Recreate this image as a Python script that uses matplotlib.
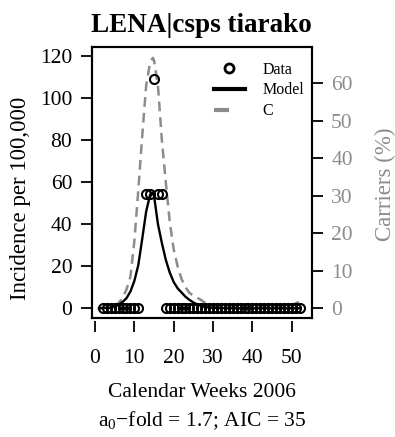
import numpy as np
import matplotlib
matplotlib.use("Agg")
import matplotlib.pyplot as plt
from matplotlib.lines import Line2D

plt.rcParams['font.family'] = ['Liberation Serif', 'DejaVu Serif']
plt.rcParams['mathtext.fontset'] = 'custom'
plt.rcParams['mathtext.rm'] = 'Liberation Serif'

# observed incidence (per 100,000), by calendar week
data_weeks = list(range(2, 12)) + [13, 14, 15, 16, 17] + list(range(18, 53))
data_vals = [0.0] * 10 + [54.5, 54.5, 109.0, 54.5, 54.5] + [0.0] * 35

# fitted model incidence
model_weeks = [1, 4, 6, 7, 8, 9, 10, 11, 12, 13, 14, 14.5, 15, 16, 17, 18, 19, 20,
               21, 22, 23, 24, 25, 26, 27, 28, 30, 35, 52]
model_vals = [0.0, 0.3, 1.6, 3.0, 4.8, 8.0, 13.0, 20.5, 33.0, 46.0, 54.0, 55.0, 53.5,
              40.0, 31.0, 23.0, 17.0, 12.5, 9.5, 7.5, 5.5, 4.0, 2.8, 1.8, 1.1, 0.6,
              0.2, 0.0, 0.0]

# carriers (%)
carr_weeks = [1, 3, 5, 6, 7, 8, 9, 10, 11, 12, 13, 14, 14.7, 15, 16, 17, 18, 19, 20,
              21, 22, 23, 24, 25, 26, 27, 28, 30, 35, 40, 45, 50, 52]
carr_vals = [0.05, 0.1, 0.6, 1.4, 2.8, 5.0, 8.4, 17.9, 31.4, 45.9, 59.4, 65.5, 66.8,
             66.1, 59.4, 44.8, 33.6, 23.0, 15.7, 11.2, 7.8, 5.6, 4.1, 3.4, 2.8, 2.2,
             1.4, 0.7, 0.6, 0.6, 0.6, 0.8, 1.8]

x_ticks = [0, 10, 20, 30, 40, 50]
y_ticks = [0, 20, 40, 60, 80, 100, 120]
c_ticks = [0, 10, 20, 30, 40, 50, 60]

grey = '#8c8c8c'
W, H = 395, 437

fig = plt.figure(figsize=(W / 100, H / 100), dpi=100)
ax = fig.add_axes([91.7 / W, 1 - 317.7 / H, (311.7 - 91.7) / W, (317.7 - 47.3) / H])
ax2 = ax.twinx()

ax.set_xlim(-0.84, 55.08)
ax.set_ylim(-4.47, 124.1)
ax2.set_ylim(-2.51, 69.6)

ax2.plot(carr_weeks, carr_vals, color=grey, lw=1.8, dashes=(3.9, 2.4))
ax.plot(model_weeks, model_vals, color='black', lw=1.7)
ax.plot(data_weeks, data_vals, 'o', mfc='none', mec='black', ms=6.5, mew=1.5)
ax.set_zorder(ax2.get_zorder() + 1)
ax.patch.set_visible(False)

for a in (ax, ax2):
    for s in a.spines.values():
        s.set_linewidth(1.5)

ax.set_yticks(y_ticks)
ax.tick_params(axis='y', direction='out', length=8, width=1.3, pad=6, labelsize=15.5)
ax.tick_params(axis='x', bottom=False, labelbottom=False)
ax2.set_yticks(c_ticks)
ax2.tick_params(axis='y', direction='out', length=8, width=1.3, pad=6, labelsize=15.5,
                labelcolor=grey)

sec = ax.secondary_xaxis(-3.5 / 270.4)
sec.set_xticks(x_ticks)
sec.spines['bottom'].set_visible(False)
sec.tick_params(axis='x', direction='out', length=8, width=1.3, pad=12, labelsize=15.5)

handles = [Line2D([], [], ls='none', marker='o', mfc='none', mec='black', ms=6.5, mew=2),
           Line2D([], [], color='black', lw=3),
           Line2D([], [], color=grey, lw=3, dashes=(3.6, 20))]
ax.legend(handles, ['Data', 'Model', 'C'], loc='upper right', frameon=False,
          fontsize=11.5, handlelength=1.9, handletextpad=1.1, labelspacing=0.3,
          bbox_to_anchor=(1.03, 1.0))

cx = (91.7 + 311.7) / 2 / W
fig.text(cx, 1 - 32 / H, 'LENA|csps tiarako', ha='center', va='baseline',
         fontsize=19.5, fontweight='bold')
fig.text(cx, 1 - 396.7 / H, 'Calendar Weeks 2006', ha='center', va='baseline', fontsize=15.5)
fig.text(cx, 1 - 426.7 / H, 'a$\\mathregular{_0}$\u2212fold = 1.7; AIC = 35', ha='center',
         va='baseline', fontsize=15.5)
fig.text(21 / W, 1 - 198 / H, 'Incidence per 100,000', rotation=90, ha='center',
         va='center', fontsize=16.5)
fig.text(385 / W, 1 - 184 / H, 'Carriers (%)', rotation=90, ha='center', va='center',
         fontsize=16.5, color=grey)

fig.savefig('out.png', dpi=100)
